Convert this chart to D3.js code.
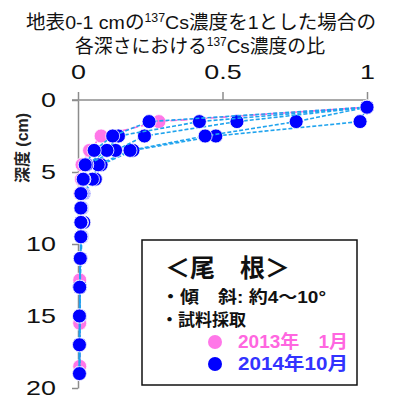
<!DOCTYPE html>
<html>
<head>
<meta charset="utf-8">
<script src="https://cdn.jsdelivr.net/npm/d3@7"></script>
<style>
body { margin: 0; background: #fff; }
text { font-family: "Liberation Sans", "Noto Sans CJK JP", sans-serif; }
</style>
</head>
<body>
<script>
// depths (cm) at the middle of each sampled layer
var depths2014 = [0.5, 1.5, 2.5, 3.5, 4.5, 5.5, 6.5, 7.5, 8.5, 9.5, 11, 13, 15, 17, 19];
var depths2013 = [0.5, 1.5, 2.5, 3.5, 4.5, 5.5, 6.5, 7.5, 8.5, 9.5, 12.5, 15.5, 18.5];

// ratio to the 0-1 cm layer, one array per profile
var jan2013 = [1, 0.28, 0.08, 0.04, 0.014, 0.012, 0.007, 0.01, 0.012, 0.01, 0.006, 0.006, 0.006];
var oct2014a = [1, 0.976, 0.477, 0.19, 0.08, 0.06, 0.02, 0.014, 0.02, 0.014, 0.01, 0.007, 0.007, 0.006, 0.006];
var oct2014b = [1, 0.755, 0.44, 0.18, 0.07, 0.05, 0.017, 0.012, 0.012, 0.012, 0.009, 0.007, 0.006, 0.006, 0.005];
var oct2014c = [1, 0.55, 0.23, 0.13, 0.03, 0.02, 0.015, 0.012, 0.01, 0.012, 0.008, 0.006, 0.006, 0.005, 0.005];
var oct2014d = [1, 0.42, 0.14, 0.10, 0.03, 0.02, 0.012, 0.01, 0.01, 0.01, 0.008, 0.006, 0.006, 0.005, 0.005];
var oct2014e = [1, 0.246, 0.12, 0.056, 0.025, 0.018, 0.01, 0.01, 0.01, 0.01, 0.008, 0.006, 0.005, 0.005, 0.005];

var xTicks = [0, 0.5, 1];
var yTicks = [0, 5, 10, 15, 20];

var w = 400, h = 410;
var svg = d3.select("body").append("svg").attr("width", w).attr("height", h);

var x = d3.scaleLinear().domain([0, 1]).range([78, 367]);
var y = d3.scaleLinear().domain([0, 20]).range([100, 388]);

// title
var title = svg.append("g").attr("font-size", "19px").attr("fill", "#111");
var t1 = title.append("text").attr("x", 201).attr("y", 29).attr("text-anchor", "middle")
  .attr("textLength", 350).attr("lengthAdjust", "spacingAndGlyphs");
t1.append("tspan").text("地表0-1 cmの");
t1.append("tspan").attr("font-size", "12px").attr("dy", "-7").text("137");
t1.append("tspan").attr("dy", "7").text("Cs濃度を1とした場合の");
var t2 = title.append("text").attr("x", 200).attr("y", 53).attr("text-anchor", "middle")
  .attr("textLength", 250).attr("lengthAdjust", "spacingAndGlyphs");
t2.append("tspan").text("各深さにおける");
t2.append("tspan").attr("font-size", "12px").attr("dy", "-7").text("137");
t2.append("tspan").attr("dy", "7").text("Cs濃度の比");

// axes
var xAxis = svg.append("g").attr("transform", "translate(0,100)")
  .call(d3.axisTop(x).tickValues(xTicks).tickSize(8).tickPadding(13).tickFormat(d3.format("")));
xAxis.select(".domain").attr("d", "M72,0H367");

var yAxis = svg.append("g").attr("transform", "translate(78,0)")
  .call(d3.axisLeft(y).tickValues(yTicks).tickSize(6).tickPadding(16).tickSizeOuter(0));

svg.selectAll(".domain, .tick line").attr("stroke", "#8c8c8c").attr("stroke-width", 1.5);
svg.selectAll(".tick text").attr("font-family", "'Liberation Sans', Arial, sans-serif")
  .attr("font-size", "21px").attr("fill", "#111");
// the reference digits are wide: stretch them sideways
var sx = 1.28;
xAxis.selectAll(".tick text").attr("transform", "scale(" + sx + ",1)");
yAxis.selectAll(".tick text").attr("x", -22 / sx).attr("transform", "scale(" + sx + ",1)");

svg.append("text")
  .attr("transform", "translate(22,148) rotate(-90)")
  .attr("text-anchor", "middle").attr("dy", "0.35em")
  .attr("font-size", "16px").attr("font-weight", "bold").attr("fill", "#222")
  .text("深度 (cm)");

// series
function drawProfile(vals, depths, lineColor, dash, dotColor) {
  var pts = vals.map(function(v, i) { return [v, depths[i]]; });
  var line = d3.line().x(function(d) { return x(d[0]); }).y(function(d) { return y(d[1]); });
  svg.append("path").datum(pts).attr("d", line)
    .attr("fill", "none").attr("stroke", lineColor)
    .attr("stroke-width", 1.6).attr("stroke-dasharray", dash);
  svg.append("g").selectAll("circle").data(pts).enter().append("circle")
    .attr("cx", function(d) { return x(d[0]); })
    .attr("cy", function(d) { return y(d[1]); })
    .attr("r", 7)
    .attr("fill", dotColor)
    .attr("stroke", "#fff").attr("stroke-width", 0.8);
}

drawProfile(jan2013, depths2013, "#ff6ee0", "7,3", "#ff77e8");
[oct2014a, oct2014b, oct2014c, oct2014d, oct2014e].forEach(function(p) {
  drawProfile(p, depths2014, "#1fa3ee", "4,2", "#0000ff");
});

// legend
var lg = svg.append("g").attr("font-weight", "bold");
lg.append("rect").attr("x", 142).attr("y", 240).attr("width", 215).attr("height", 145)
  .attr("fill", "#fff").attr("stroke", "#111").attr("stroke-width", 1.5);
lg.append("text").attr("x", 165).attr("y", 277).attr("font-size", "25px")
  .attr("fill", "#111").text("＜尾　根＞");
lg.append("text").attr("x", 161).attr("y", 303).attr("font-size", "17px")
  .attr("textLength", 165).attr("lengthAdjust", "spacingAndGlyphs")
  .attr("fill", "#111").text("・傾　斜: 約4～10°");
lg.append("text").attr("x", 161).attr("y", 326).attr("font-size", "17px")
  .attr("fill", "#111").text("・試料採取");
lg.append("circle").attr("cx", 215).attr("cy", 342).attr("r", 7).attr("fill", "#ff77e8");
lg.append("circle").attr("cx", 215).attr("cy", 364).attr("r", 7).attr("fill", "#0000ff");
lg.append("text").attr("x", 238).attr("y", 348).attr("font-size", "18px")
  .attr("textLength", 110).attr("lengthAdjust", "spacingAndGlyphs")
  .attr("fill", "#ff66e0").text("2013年　1月");
lg.append("text").attr("x", 238).attr("y", 370).attr("font-size", "18px")
  .attr("textLength", 110).attr("lengthAdjust", "spacingAndGlyphs")
  .attr("fill", "#3333ff").text("2014年10月");
</script>
</body>
</html>
